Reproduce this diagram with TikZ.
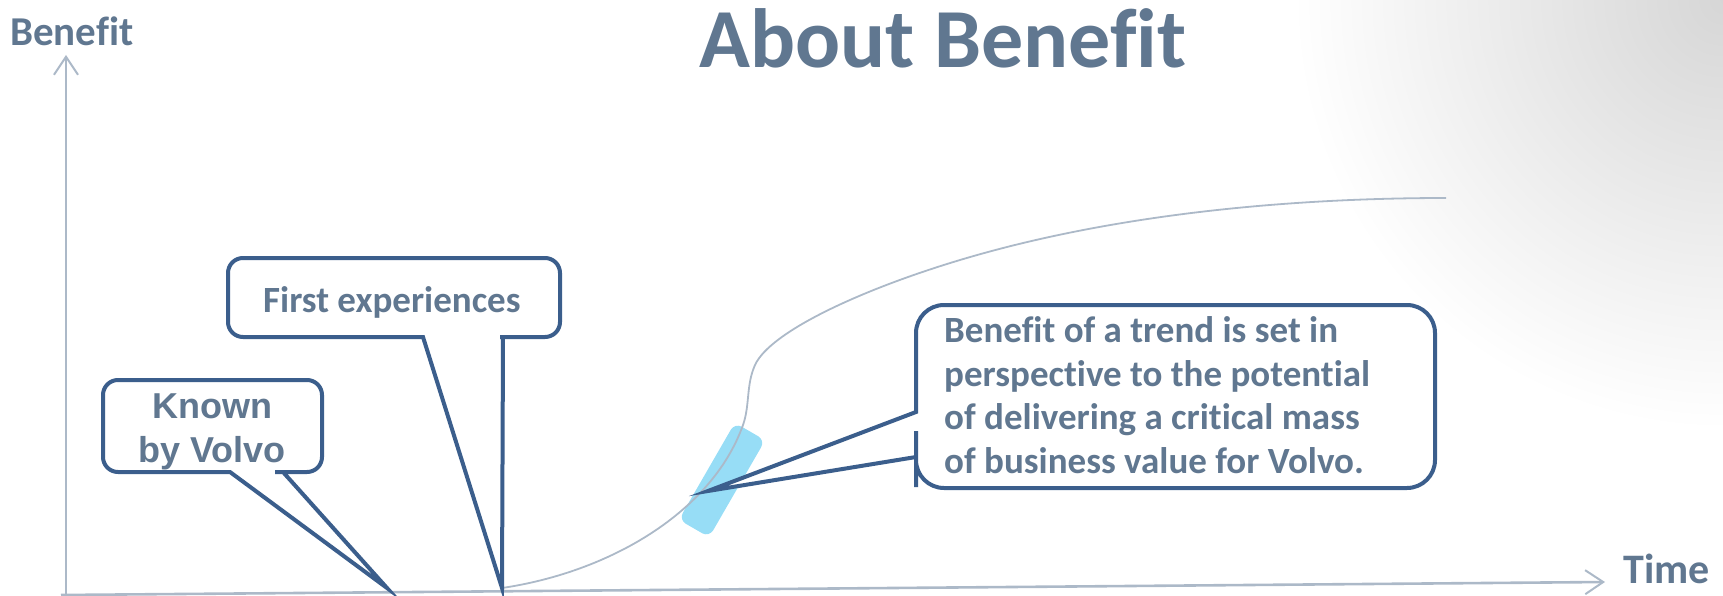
\documentclass[tikz,border=0pt]{standalone}
\usepackage{fontspec}
\setmainfont{Carlito}[Ligatures={NoCommon,NoContextual}]
\newfontfamily\arialfont{Liberation Sans}
\usetikzlibrary{arrows.meta}
\definecolor{txt}{RGB}{96,119,144}
\definecolor{bord}{RGB}{59,94,140}
\definecolor{axisc}{RGB}{172,185,200}
\definecolor{hl}{RGB}{151,221,246}
\begin{document}
\begin{tikzpicture}[x=1pt,y=-1pt,
  callout/.style={draw=bord, line width=4pt, fill=white, line join=miter, miter limit=30},
  lbl/.style={text=txt, inner sep=0pt},
  axisline/.style={draw=axisc, line width=2.6pt, -{Straight Barb[length=18pt,width=24pt,line width=2pt]}},
  curveline/.style={draw=axisc, line width=1.8pt}]
\useasboundingbox (0,0) rectangle (1723,596);
\begin{scope}
  \clip (0,0) rectangle (1723,596);
  \shade[inner color=black!16, outer color=white] (1723,0) circle (430pt);
\end{scope}
% axes
\coordinate (yfoot) at (66,596);
\coordinate (ytop) at (66,55);
\coordinate (xfoot) at (61,595);
\coordinate (xend) at (1605,582);
\draw[axisline] (yfoot) -- (ytop);
\draw[axisline] (xfoot) -- (xend);
\node[lbl, anchor=base west, font=\bfseries\fontsize{41}{49}\selectfont] (ylab) at (10,46) {Benefit};
\node[lbl, anchor=base west, font=\bfseries\fontsize{42}{50}\selectfont] (xlab) at (1623,583) {Time};
\node[lbl, anchor=base, font=\bfseries\fontsize{84}{100}\selectfont] (title) at (943,68) {About Benefit};
% highlight
\node[fill=hl, rounded corners=8pt, minimum width=112pt, minimum height=35pt, rotate=60, inner sep=0pt] (hlbox) at (722,480) {};
% curve
\draw[curveline] (502,588) .. controls (610,572) and (712,512) .. (743,425)
  .. controls (750,405) and (746,385) .. (755,365)
  .. controls (770,332) and (860,290) .. (960,260)
  .. controls (1120,212) and (1300,198) .. (1446,198);
% callout: Known by Volvo
\path[callout] (212,380) [rounded corners=15pt] -- (322,380) -- (322,472) -- (290,472) [sharp corners] -- (283,472) -- (387,588) -- (230,472) -- (222,472) [rounded corners=15pt] -- (103,472) -- (103,380) -- cycle;
\node[lbl, anchor=base, font=\arialfont\bfseries\fontsize{36}{44}\selectfont] (k1) at (212,418) {Known};
\node[lbl, anchor=base, font=\arialfont\bfseries\fontsize{36}{44}\selectfont] (k2) at (212,462) {by Volvo};
% callout: First experiences
\path[callout] (394,258) [rounded corners=15pt] -- (560,258) -- (560,337) -- (515,337) [sharp corners] -- (503,337) -- (502,588) -- (423,337) -- (410,337) [rounded corners=15pt] -- (228,337) -- (228,258) -- cycle;
\node[lbl, anchor=base west, font=\bfseries\fontsize{37}{44}\selectfont] (fe) at (263,312) {First experiences};
% callout: big
\path[callout] (1175,305) [rounded corners=28pt] -- (1435,305) -- (1435,488) -- (916,488) -- (916,459) [sharp corners] -- (916,457) -- (708,491) -- (916,412) -- (916,410) [rounded corners=28pt] -- (916,305) -- cycle;
\node[lbl, anchor=base west, font=\bfseries\fontsize{37}{44}\selectfont] (b1) at (944,342) {Benefit of a trend is set in};
\node[lbl, anchor=base west, font=\bfseries\fontsize{37}{44}\selectfont] (b2) at (944,386) {perspective to the potential};
\node[lbl, anchor=base west, font=\bfseries\fontsize{37}{44}\selectfont] (b3) at (944,429) {of delivering a critical mass};
\node[lbl, anchor=base west, font=\bfseries\fontsize{37}{44}\selectfont] (b4) at (944,473) {of business value for Volvo.};
\end{tikzpicture}
\end{document}
